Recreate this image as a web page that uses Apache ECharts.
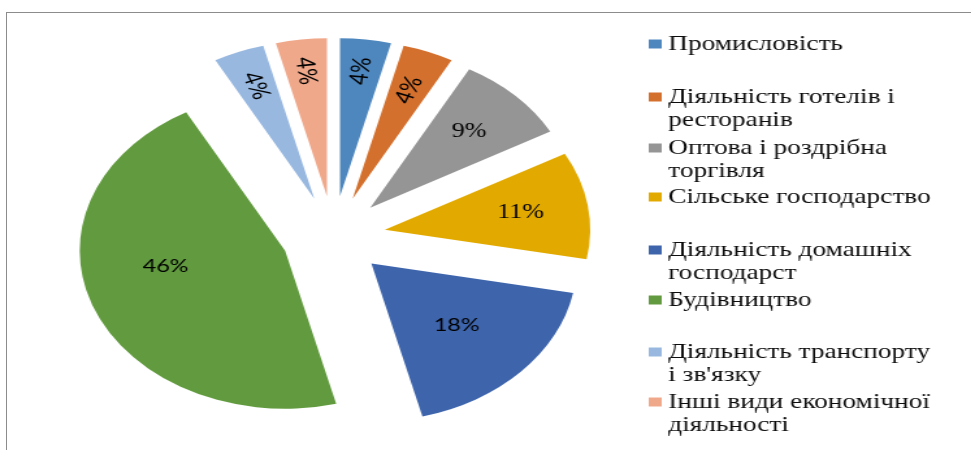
<!DOCTYPE html>
<html>
<head>
<meta charset="utf-8">
<script src="https://cdn.jsdelivr.net/npm/echarts@6/dist/echarts.min.js"></script>
<style>
  html, body { margin: 0; padding: 0; background: #fff; overflow: hidden; }
  #frame { position: absolute; left: 6px; top: 12px; width: 980px; height: 460px;
           border-top: 1px solid #8c8c8c; border-left: 1px solid #8c8c8c; }
  /* the source picture is stretched sideways, so the chart is drawn narrow and widened */
  #chart { position: absolute; left: 0; top: 0; width: 747px; height: 450px;
           transform: scaleX(1.3); transform-origin: 0 0; }
</style>
</head>
<body>
<div id="frame"></div>
<div id="chart"></div>
<script>
// частки видів діяльності, %
const categories = [
  'Промисловість',
  'Діяльність готелів і ресторанів',
  'Оптова і роздрібна торгівля',
  'Сільське господарство',
  'Діяльність домашніх господарст',
  'Будівництво',
  'Діяльність транспорту і зв\'язку',
  'Інші види економічної діяльності'
];
const shares = [4, 4, 9, 11, 18, 46, 4, 4];
const legendText = [
  'Промисловість',
  'Діяльність готелів і\nресторанів',
  'Оптова і роздрібна\nторгівля',
  'Сільське господарство',
  'Діяльність домашніх\nгосподарст',
  'Будівництво',
  'Діяльність транспорту\nі зв\'язку',
  'Інші види економічної\nдіяльності'
];

const colors = ['#4e87be', '#d4702d', '#959595', '#e2aa00', '#3e65ac', '#629b3f', '#98b8e0', '#f0a88b'];
const pieCenter = [256.5, 236];
const pieRadius = 158;
const explode = 40;
const labelDepth = [0.8, 0.74, 0.68, 0.67, 0.57, 0.59, 0.77, 0.8];
const labelTurn = [0, 0, 0, 0, 0, 12, 0, 0];
const labelFont = ['Lato', 'Lato', 'Liberation Serif', 'Liberation Serif', 'Lato', 'Lato', 'Lato', 'Lato'];
const labelSize = [20, 20, 20, 20, 18, 18, 20, 20];
const legendLineY = [44, 97, 148, 197, 250, 300, 352, 402];

const total = shares.reduce((a, b) => a + b, 0);
function midAngle(i) {
  let s = 0;
  for (let k = 0; k < i; k++) s += shares[k];
  return (s + shares[i] / 2) / total * 360;
}

const chart = echarts.init(document.getElementById('chart'));

const option = {
  animation: false,
  color: colors,
  legend: categories.map((name, i) => {
    const twoLines = legendText[i].indexOf('\n') >= 0;
    return {
      data: [name],
      orient: 'vertical',
      left: 499,
      top: legendLineY[i] - (twoLines ? 34.5 : 11.5),
      padding: 0,
      itemWidth: 10,
      itemHeight: 9,
      icon: 'rect',
      selectedMode: false,
      // порожній перший рядок, щоб маркер стояв навпроти першого рядка
      formatter: () => (twoLines ? '\n' : '') + legendText[i],
      textStyle: {
        fontFamily: 'Liberation Serif',
        fontSize: 21,
        lineHeight: 23,
        color: '#0d0d0d'
      }
    };
  }),
  series: [
    {
      // сектори, винесені від центру
      type: 'pie',
      center: pieCenter,
      radius: pieRadius,
      startAngle: 90,
      clockwise: true,
      selectedMode: 'multiple',
      selectedOffset: explode,
      emphasis: { disabled: true },
      label: { show: false },
      labelLine: { show: false },
      data: categories.map((name, i) => ({ name: name, value: shares[i], selected: true }))
    },
    {
      // лише підписи
      type: 'pie',
      center: pieCenter,
      radius: pieRadius,
      startAngle: 90,
      clockwise: true,
      silent: true,
      avoidLabelOverlap: false,
      itemStyle: { color: 'rgba(0,0,0,0)' },
      emphasis: { disabled: true },
      labelLine: { show: false },
      label: {
        show: true,
        position: 'inside',
        color: '#000',
        fontSize: 18,
        formatter: p => p.value + '%'
      },
      labelLayout: function (p) {
        const i = p.dataIndex;
        const a0 = midAngle(i) * Math.PI / 180;
        const a1 = (midAngle(i) + labelTurn[i]) * Math.PI / 180;
        const d = labelDepth[i] * pieRadius;
        return {
          x: pieCenter[0] + explode * Math.sin(a0) + d * Math.sin(a1),
          y: pieCenter[1] - explode * Math.cos(a0) - d * Math.cos(a1)
        };
      },
      data: categories.map((name, i) => ({
        name: name,
        value: shares[i],
        label: {
          fontFamily: labelFont[i],
          fontSize: labelSize[i],
          rotate: shares[i] < 5 ? 'radial' : 0
        }
      }))
    }
  ]
};

chart.setOption(option);
</script>
</body>
</html>
